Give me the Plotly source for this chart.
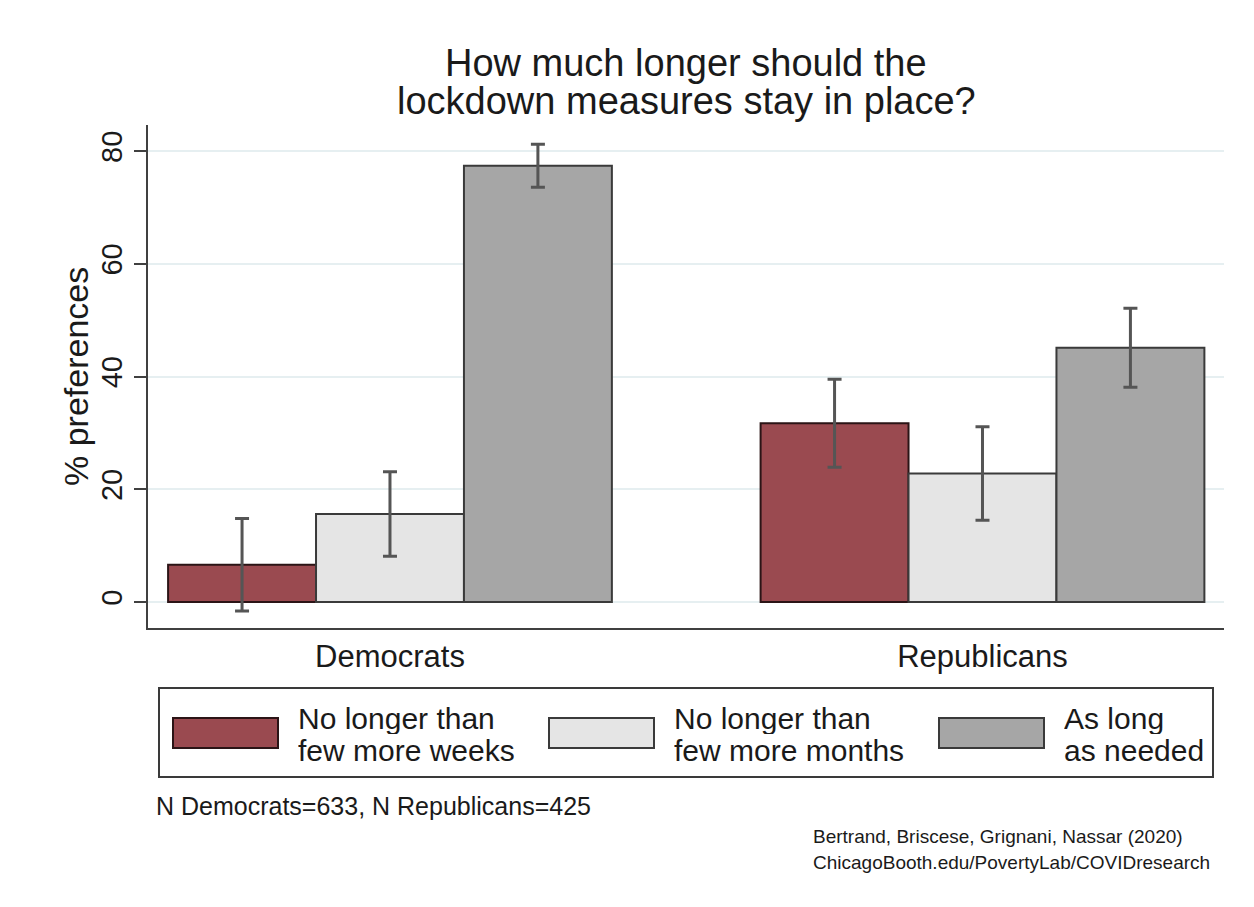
import plotly.graph_objects as go

# Survey data: share of respondents (%) by party and preferred lockdown length
groups = ["Democrats", "Republicans"]
series_names = [
    "No longer than few more weeks",
    "No longer than few more months",
    "As long as needed",
]
legend_lines = [
    ("No longer than", "few more weeks"),
    ("No longer than", "few more months"),
    ("As long", "as needed"),
]
weeks = [6.6, 31.7]
months = [15.6, 22.8]
needed = [77.4, 45.1]
weeks_ci = [8.2, 7.8]
months_ci = [7.5, 8.3]
needed_ci = [3.8, 7.0]
y_ticks = [0, 20, 40, 60, 80]

fills = ["#9a4a50", "#e5e5e5", "#a6a6a6"]
outlines = ["#2b1416", "#3a3a3a", "#3a3a3a"]
FONT = "Arial, Liberation Sans, sans-serif"
W, H = 1254, 907
L, R, T, B = 148, 30, 125, 279

def px_x(p):
    return (p - L) / (W - L - R)

def px_y(p):
    return (H - B - p) / (H - T - B)

fig = go.Figure()
for name, vals, ci, fill, edge in zip(
    series_names, [weeks, months, needed], [weeks_ci, months_ci, needed_ci], fills, outlines
):
    fig.add_trace(go.Bar(
        name=name, x=groups, y=vals,
        marker=dict(color=fill, line=dict(color=edge, width=2)),
        error_y=dict(type="data", array=ci, visible=True, color="#555555", thickness=3, width=7),
        showlegend=False,
    ))

fig.update_layout(
    width=W, height=H,
    margin=dict(l=L, r=R, t=T, b=B),
    paper_bgcolor="white", plot_bgcolor="white",
    barmode="group", bargap=0.251, bargroupgap=0,
    font=dict(family=FONT, color="#1a1a1a"),
    xaxis=dict(
        range=[-0.4084, 1.4076], showline=True, linecolor="#404040", linewidth=2,
        ticks="", showgrid=False, tickfont=dict(size=31, color="#1a1a1a"),
    ),
    yaxis=dict(
        range=[-4.61, 84.63], tickvals=y_ticks, showline=True, linecolor="#404040", linewidth=2,
        ticks="outside", ticklen=12, tickwidth=2, tickcolor="#404040",
        tickangle=-90, tickfont=dict(size=29, color="#1a1a1a"),
        showgrid=True, gridcolor="#e6eff1", gridwidth=1.5, zeroline=False,
    ),
)

ann = []
# Title (two lines)
for text, yp in [("How much longer should the", 63), ("lockdown measures stay in place?", 101)]:
    ann.append(dict(text=text, x=px_x(686), y=px_y(yp), xref="paper", yref="paper",
                    xanchor="center", yanchor="middle", showarrow=False,
                    font=dict(size=38, color="#1a1a1a")))
# Y-axis title
ann.append(dict(text="% preferences", x=px_x(76), y=px_y(377), xref="paper", yref="paper",
                xanchor="center", yanchor="middle", textangle=-90, showarrow=False,
                font=dict(size=34, color="#1a1a1a")))

# Legend box with wide swatches
shapes = [dict(type="rect", xref="paper", yref="paper",
               x0=px_x(159), x1=px_x(1213), y0=px_y(777), y1=px_y(688),
               line=dict(color="#3a3a3a", width=2), fillcolor="white")]
sw_left = [173, 549, 939]
txt_left = [296, 672, 1062]
for i in range(3):
    shapes.append(dict(type="rect", xref="paper", yref="paper",
                       x0=px_x(sw_left[i]), x1=px_x(sw_left[i] + 105),
                       y0=px_y(748), y1=px_y(718),
                       fillcolor=fills[i], line=dict(color=outlines[i], width=2)))
    for line_text, yp in zip(legend_lines[i], [718, 750]):
        ann.append(dict(text=line_text, x=px_x(txt_left[i]), y=px_y(yp), xref="paper", yref="paper",
                        xanchor="left", yanchor="middle", showarrow=False, height=31,
                        font=dict(size=30, color="#1a1a1a")))

# Notes
ann.append(dict(text="N Democrats=633, N Republicans=425", x=px_x(154), y=px_y(806),
                xref="paper", yref="paper", xanchor="left", yanchor="middle", showarrow=False,
                font=dict(size=25, color="#1a1a1a")))
for text, yp in [("Bertrand, Briscese, Grignani, Nassar (2020)", 837),
                 ("ChicagoBooth.edu/PovertyLab/COVIDresearch", 862)]:
    ann.append(dict(text=text, x=px_x(811), y=px_y(yp), xref="paper", yref="paper",
                    xanchor="left", yanchor="middle", showarrow=False,
                    font=dict(size=19, color="#1a1a1a")))

fig.update_layout(annotations=ann, shapes=shapes)
fig.write_html("out.html")
